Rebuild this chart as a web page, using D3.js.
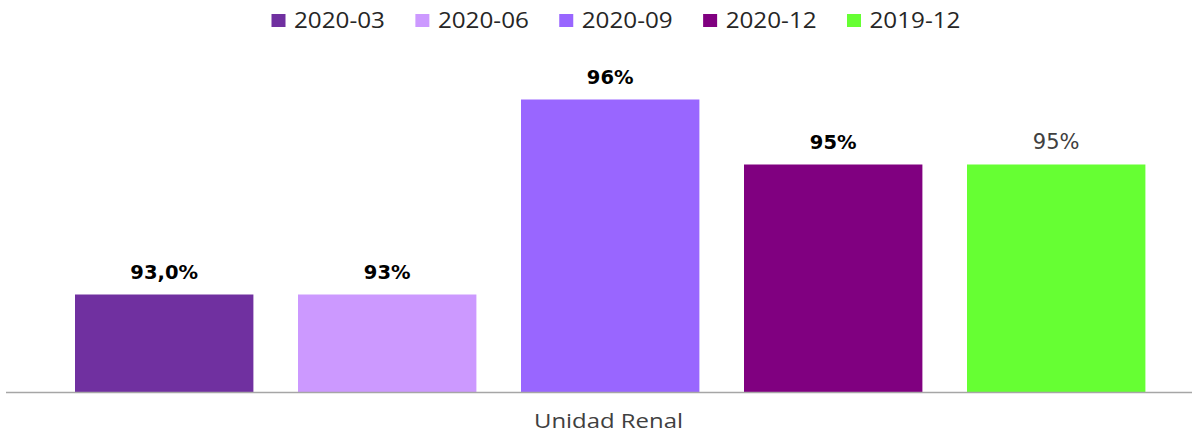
<!DOCTYPE html>
<html><head><meta charset="utf-8">
<script src="https://cdn.jsdelivr.net/npm/d3@7"></script>
<style>body{margin:0;background:#fff}</style>
</head><body>
<svg id="c" width="1192" height="434"></svg>
<script>
const category = "Unidad Renal";
const series = ["2020-03","2020-06","2020-09","2020-12","2019-12"];
const values = [93.0, 93.0, 96.0, 95.0, 95.0];
const labels = ["93,0%","93%","96%","95%","95%"];
const colors = ["#7030a0","#cc99ff","#9966ff","#800080","#66ff33"];
const boldLabel = [true,true,true,true,false];

const svg = d3.select("#c");
const y = d3.scaleLinear().domain([91.5, 97]).range([392, 34.5]);
const x = d3.scaleBand().domain(series).range([52.7, 1167.7]).paddingInner(0.2).paddingOuter(0.1);

svg.selectAll("rect.bar").data(series).join("rect").attr("class","bar")
  .attr("x", d => x(d)).attr("width", x.bandwidth())
  .attr("y", (d,i) => y(values[i])).attr("height", (d,i) => y.range()[0] - y(values[i]))
  .attr("fill", (d,i) => colors[i]);

svg.append("line").attr("x1",6).attr("x2",1192).attr("y1",392.5).attr("y2",392.5)
  .attr("stroke","#a6a6a6").attr("stroke-width",1.5);

svg.selectAll("text.lab").data(series).join("text").attr("class","lab")
  .attr("x", d => x(d) + x.bandwidth()/2)
  .attr("y", (d,i) => y(values[i]) - 16)
  .attr("text-anchor","middle")
  .attr("font-family","DejaVu Sans, Verdana, sans-serif")
  .attr("font-size", (d,i) => boldLabel[i] ? 19.5 : 21)
  .attr("font-weight", (d,i) => boldLabel[i] ? "bold" : "normal")
  .attr("fill", (d,i) => boldLabel[i] ? "#000" : "#404040")
  .text((d,i) => labels[i]);

svg.append("text").attr("x", 534).attr("y", 428)
  .attr("font-family","Open Sans, sans-serif").attr("font-size",20).attr("fill","#404040")
  .attr("textLength",149).attr("lengthAdjust","spacingAndGlyphs")
  .text(category);

const leg = svg.append("g");
const lx = d3.scalePoint().domain(series).range([271.5, 847]);
const items = leg.selectAll("g").data(series).join("g").attr("transform", d => `translate(${lx(d)},0)`);
items.append("rect").attr("x",0).attr("y",14).attr("width",14).attr("height",13).attr("fill",(d,i)=>colors[i]);
items.append("text").attr("x",22.5).attr("y",27.5).attr("font-family","Open Sans, sans-serif")
  .attr("font-size",21).attr("fill","#262626")
  .attr("textLength",91).attr("lengthAdjust","spacingAndGlyphs")
  .text(d=>d);
</script>
</body></html>
